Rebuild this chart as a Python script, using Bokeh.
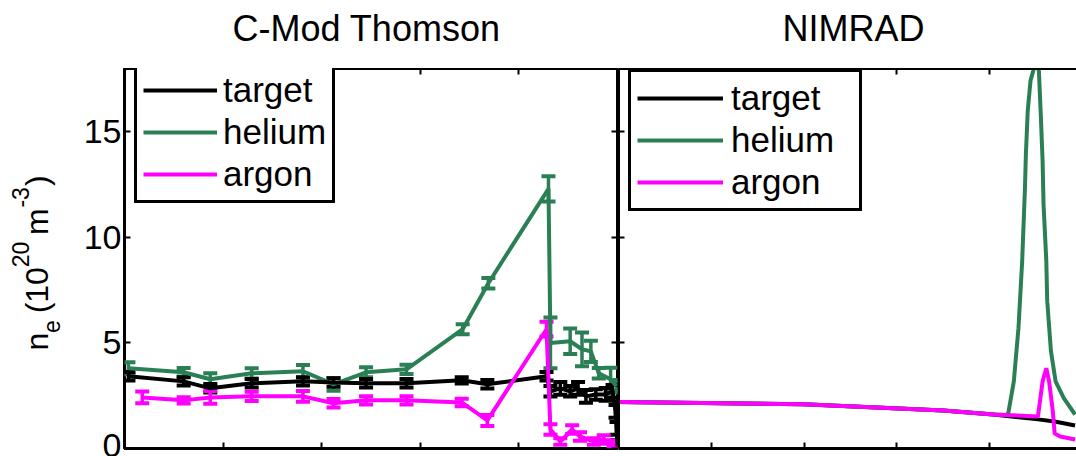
from bokeh.plotting import figure
from bokeh.models import (ColumnDataSource, Whisker, TeeHead, Legend, LegendItem,
                          LinearAxis, FixedTicker, Range1d, Label)
from bokeh.layouts import row, column
from bokeh.embed import file_html
from bokeh.resources import INLINE

# ---------------- data: C-Mod Thomson (left panel) ----------------
cm_target_x = [0.04, 0.60, 0.87, 1.29, 1.81, 2.12, 2.45, 2.86, 3.42, 3.68, 4.28, 4.32,
               4.42, 4.52, 4.60, 4.68, 4.78, 4.88, 4.95, 4.98, 4.99, 5.00]
cm_target_y = [3.42, 3.18, 2.85, 3.09, 3.18, 3.13, 3.09, 3.09, 3.23, 3.04, 3.42, 2.71,
               2.85, 2.71, 2.85, 2.47, 2.56, 2.56, 2.71, 1.76, 0.95, 0.10]
cm_target_err = [0.20, 0.20, 0.20, 0.20, 0.20, 0.20, 0.20, 0.20, 0.15, 0.20, 0.20, 0.25,
                 0.30, 0.25, 0.30, 0.30, 0.25, 0.30, 0.30, 0.30, 0.30, 0.30]

cm_helium_x = [0.04, 0.60, 0.87, 1.29, 1.81, 2.12, 2.45, 2.86, 3.43, 3.69, 4.30, 4.32,
               4.52, 4.64, 4.73, 4.81, 4.93, 4.99]
cm_helium_y = [3.80, 3.61, 3.28, 3.56, 3.66, 3.04, 3.61, 3.75, 5.65, 7.83, 12.3, 5.00,
               5.08, 4.70, 4.60, 3.56, 3.28, 2.95]
cm_helium_err = [0.28, 0.20, 0.28, 0.24, 0.30, 0.30, 0.24, 0.22, 0.24, 0.25, 0.60, 1.20,
                 0.60, 0.80, 0.50, 0.25, 0.55, 0.30]

cm_argon_x = [0.18, 0.60, 0.87, 1.29, 1.81, 2.12, 2.45, 2.86, 3.42, 3.68, 4.28, 4.32,
              4.42, 4.54, 4.62, 4.76, 4.86, 4.96]
cm_argon_y = [2.42, 2.28, 2.42, 2.47, 2.47, 2.14, 2.28, 2.28, 2.18, 1.33, 5.65, 0.90,
              0.33, 0.90, 0.57, 0.33, 0.43, 0.24]
cm_argon_err = [0.28, 0.15, 0.30, 0.22, 0.25, 0.20, 0.20, 0.20, 0.18, 0.26, 0.35, 0.25,
                0.15, 0.20, 0.20, 0.15, 0.20, 0.15]

# ---------------- data: NIMRAD (right panel) ----------------
nim_target_x = [0.00, 1.99, 2.96, 3.50, 4.04, 4.52, 4.70, 4.92]
nim_target_y = [2.20, 2.10, 1.91, 1.80, 1.61, 1.38, 1.28, 1.09]

nim_helium_x = [0.00, 1.99, 2.96, 3.50, 4.04, 4.17, 4.20, 4.26, 4.31, 4.35, 4.38, 4.39,
                4.41, 4.44, 4.47, 4.49, 4.53, 4.55, 4.57, 4.58, 4.61, 4.62, 4.66, 4.71,
                4.80, 4.92]
nim_helium_y = [2.20, 2.10, 1.91, 1.80, 1.61, 1.59, 1.66, 3.18, 5.70, 8.88, 12.35, 13.96,
                16.0, 17.43, 17.9, 18.4, 17.9, 15.86, 13.63, 11.59, 8.88, 6.98, 4.61, 3.18,
                2.37, 1.61]

nim_argon_x = [0.00, 1.99, 2.96, 3.50, 4.04, 4.52, 4.57, 4.61, 4.64, 4.68, 4.70, 4.76, 4.92]
nim_argon_y = [2.20, 2.10, 1.91, 1.80, 1.61, 1.52, 3.18, 3.80, 3.18, 1.76, 0.71, 0.57, 0.43]

series_names = ["target", "helium", "argon"]
series_colors = ["#000000", "#2B7F55", "#FF00FF"]
y_ticks = [0, 5, 10, 15]
x_ticks = [1, 2, 3, 4]
titles = ["C-Mod Thomson", "NIMRAD"]

FONT = "Liberation Sans"
W = 1076
H = 456
TOP = 68          # height of the title strip
PH = H - TOP      # height of the panels


def style_axis(ax, ticks, labels, line=True):
    ax.ticker = FixedTicker(ticks=ticks)
    ax.axis_line_color = "black" if line else None
    ax.axis_line_width = 3
    ax.major_tick_in = 6
    ax.major_tick_out = 0
    ax.minor_tick_in = 0
    ax.minor_tick_out = 0
    ax.major_tick_line_width = 2
    ax.major_tick_line_color = "black"
    ax.major_label_text_font = FONT
    ax.major_label_text_color = "black"
    if labels:
        ax.major_label_text_font_size = "34px"
        ax.major_label_standoff = 3
    else:
        ax.major_label_overrides = {t: "" for t in ticks}
        ax.major_label_text_font_size = "0px"
        ax.major_label_standoff = 0


def blank_fig(width, height, xr, yr):
    p = figure(width=width, height=height, x_range=xr, y_range=yr,
               output_backend="svg", toolbar_location=None, title=None,
               x_axis_location=None, y_axis_location=None,
               min_border_left=0, min_border_right=0, min_border_top=0, min_border_bottom=0,
               background_fill_color="white", border_fill_color="white")
    p.outline_line_color = None
    p.xgrid.visible = False
    p.ygrid.visible = False
    return p


def make_fig(width, xmax, min_left, min_right):
    p = figure(width=width, height=PH, x_range=Range1d(0, xmax), y_range=Range1d(0, 18),
               output_backend="svg", toolbar_location=None, title=None,
               min_border_left=min_left, min_border_right=min_right,
               min_border_top=0, min_border_bottom=8,
               background_fill_color="white", border_fill_color="white")
    p.xgrid.visible = False
    p.ygrid.visible = False
    return p


def make_legend(renderers, loc, glyph_w, item_h, label_w, standoff, spacing):
    return Legend(items=[LegendItem(label=n, renderers=[renderers[n]]) for n in series_names],
                  location=loc, orientation="vertical",
                  label_text_font=FONT, label_text_font_size="35px", label_text_color="black",
                  glyph_width=glyph_w, glyph_height=item_h, label_height=item_h,
                  label_width=label_w, label_standoff=standoff, padding=6,
                  spacing=spacing, margin=0,
                  border_line_color="black", border_line_width=3, border_line_alpha=1.0,
                  background_fill_color="white", background_fill_alpha=1.0)


# ---------------- title strip (page pixel coordinates) ----------------
pt = blank_fig(W, TOP, Range1d(0, W), Range1d(TOP, 0))
for txt, tx in zip(titles, [232, 782]):
    pt.add_layout(Label(x=tx, y=28, text=txt, text_font=FONT, text_font_size="36px",
                        text_color="black", text_align="left", text_baseline="alphabetic"))

# ---------------- y-axis label strip (page pixel coordinates) ----------------
p0 = blank_fig(70, PH, Range1d(0, 70), Range1d(H, TOP))
# (text, x of text middle, start y, font size)
ylab_pieces = [
    ("n", 36, 356, "32px"),
    ("e", 50.5, 338, "23px"),
    ("(10", 36, 318, "32px"),
    ("20", 20, 271, "23px"),
    ("m", 36, 238, "32px"),
    ("-3", 20, 210, "23px"),
    (")", 36, 188, "32px"),
]
for txt, bx, sy, fs in ylab_pieces:
    p0.add_layout(Label(x=bx, y=sy, text=txt, angle=1.5707963267948966,
                        text_font=FONT, text_font_size=fs, text_color="black",
                        text_align="left", text_baseline="middle"))

# ---------------- left panel ----------------
p1 = make_fig(548, 5, 54, 1)
p1.outline_line_color = "black"
p1.outline_line_width = 3
style_axis(p1.yaxis[0], y_ticks, True, line=False)
style_axis(p1.xaxis[0], x_ticks, False, line=False)
ax_r = LinearAxis()
style_axis(ax_r, y_ticks, False, line=False)
p1.add_layout(ax_r, "right")
ax_t = LinearAxis()
style_axis(ax_t, x_ticks, False, line=False)
p1.add_layout(ax_t, "above")

cm = {
    "target": (cm_target_x, cm_target_y, cm_target_err),
    "helium": (cm_helium_x, cm_helium_y, cm_helium_err),
    "argon": (cm_argon_x, cm_argon_y, cm_argon_err),
}
renderers1 = {}
for name in ["helium", "target", "argon"]:
    xs, ys, es = cm[name]
    col = series_colors[series_names.index(name)]
    src = ColumnDataSource(dict(x=xs, y=ys,
                                lo=[a - b for a, b in zip(ys, es)],
                                hi=[a + b for a, b in zip(ys, es)]))
    renderers1[name] = p1.line("x", "y", source=src, line_color=col, line_width=4)
    w = Whisker(base="x", lower="lo", upper="hi", source=src, line_color=col, line_width=3.5,
                upper_head=TeeHead(size=14, line_color=col, line_width=4),
                lower_head=TeeHead(size=14, line_color=col, line_width=4))
    p1.add_layout(w)

p1.add_layout(make_legend(renderers1, (10, 245), 74, 38, 100, 6, 2), "center")

# ---------------- right panel ----------------
p2 = make_fig(458, 458 / 92.8, 0, 0)
p2.outline_line_color = None
style_axis(p2.yaxis[0], y_ticks, False, line=True)
style_axis(p2.xaxis[0], x_ticks, False, line=True)
ax_t2 = LinearAxis()
style_axis(ax_t2, x_ticks, False, line=True)
p2.add_layout(ax_t2, "above")

nim = {
    "target": (nim_target_x, nim_target_y),
    "helium": (nim_helium_x, nim_helium_y),
    "argon": (nim_argon_x, nim_argon_y),
}
renderers2 = {}
for name in ["target", "helium", "argon"]:
    xs, ys = nim[name]
    col = series_colors[series_names.index(name)]
    renderers2[name] = p2.line(xs, ys, line_color=col, line_width=4)

p2.add_layout(make_legend(renderers2, (10, 237), 86, 38, 122, 8, 2), "center")

layout = column(pt, row(p0, p1, p2))
open("out.html", "w").write(file_html(layout, INLINE))
